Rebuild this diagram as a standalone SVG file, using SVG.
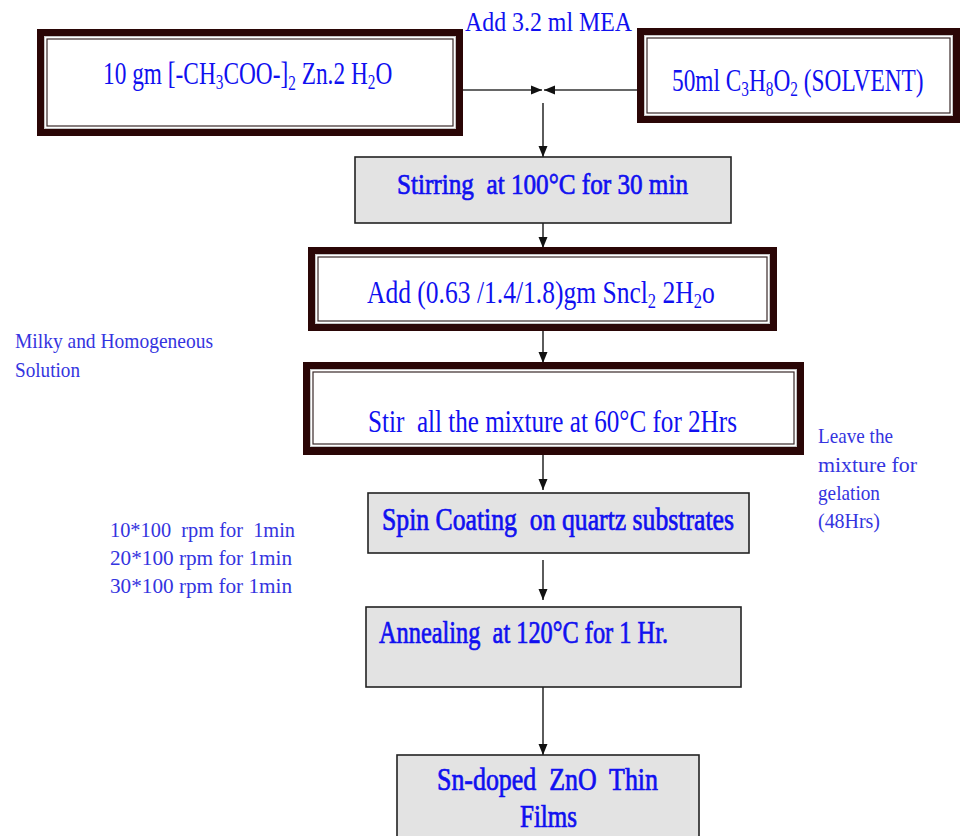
<svg xmlns="http://www.w3.org/2000/svg" width="960" height="836" viewBox="0 0 960 836">
<defs>
<style>
.bg{fill:#ffffff}
.frame{fill:#2a0606}
.band{fill:#c4c4c4}
.inner{fill:#ffffff}
.innerline{fill:none;stroke:#3a2a2a;stroke-width:1.2}
.plain{fill:#e3e3e3;stroke:#222;stroke-width:1.6}
.t{font-family:"Liberation Serif","Times New Roman",serif;fill:#1010f0}
.b{stroke:#1010f0;stroke-width:0.7}
.lbl{font-family:"Liberation Serif","Times New Roman",serif;fill:#3434e0}
.con{stroke:#333;stroke-width:1.6;fill:none}
</style>
<marker id="ah" markerUnits="userSpaceOnUse" markerWidth="12" markerHeight="12" viewBox="0 0 12 12" refX="11" refY="6" orient="auto">
<path d="M0,1.5 L11,6 L0,10.5 Z" fill="#111"/>
</marker>
</defs>
<rect class="bg" x="0" y="0" width="960" height="836"/>

<g id="connectors">
<line class="con" x1="463" y1="90" x2="542" y2="90" marker-end="url(#ah)"/>
<line class="con" x1="637" y1="90" x2="544" y2="90" marker-end="url(#ah)"/>
<line class="con" x1="543" y1="103" x2="543" y2="157" marker-end="url(#ah)"/>
<line class="con" x1="543" y1="223" x2="543" y2="248" marker-end="url(#ah)"/>
<line class="con" x1="543" y1="331" x2="543" y2="363" marker-end="url(#ah)"/>
<line class="con" x1="543" y1="455" x2="543" y2="490" marker-end="url(#ah)"/>
<line class="con" x1="543" y1="560" x2="543" y2="600" marker-end="url(#ah)"/>
<line class="con" x1="543" y1="687" x2="543" y2="755" marker-end="url(#ah)"/>
</g>

<g id="zinc-acetate">
<rect class="frame" x="37" y="29" width="426" height="107"/>
<rect class="band" x="44" y="36" width="412" height="93"/>
<rect class="inner" x="45" y="37" width="410" height="91"/>
<rect class="innerline" x="47" y="39" width="406" height="87"/>
<text class="t" transform="translate(103 84) scale(0.729 1)" x="0" y="0" font-size="32">10 gm [-CH<tspan font-size="21" dy="5">3</tspan><tspan dy="-5">COO-]</tspan><tspan font-size="21" dy="6">2</tspan><tspan dy="-6"> Zn.2 H</tspan><tspan font-size="21" dy="5">2</tspan><tspan dy="-5">O</tspan></text>
</g>

<g id="mea-label">
<text class="t" x="465" y="31" font-size="28" textLength="167" lengthAdjust="spacingAndGlyphs">Add 3.2 ml MEA</text>
</g>

<g id="solvent">
<rect class="frame" x="637" y="28" width="323" height="95"/>
<rect class="band" x="644" y="35" width="309" height="81"/>
<rect class="inner" x="645" y="36" width="307" height="79"/>
<rect class="innerline" x="647" y="38" width="303" height="75"/>
<text class="t" transform="translate(672 91) scale(0.729 1)" x="0" y="0" font-size="32">50ml C<tspan font-size="21" dy="5">3</tspan><tspan dy="-5">H</tspan><tspan font-size="21" dy="5">8</tspan><tspan dy="-5">O</tspan><tspan font-size="21" dy="5">2</tspan><tspan dy="-5"> (SOLVENT)</tspan></text>
</g>

<g id="stirring">
<rect class="plain" x="355" y="157" width="376" height="66"/>
<text class="t b" x="397" y="194" font-size="30" textLength="291" lengthAdjust="spacingAndGlyphs">Stirring&#160; at 100°C for 30 min</text>
</g>

<g id="add-sncl">
<rect class="frame" x="308" y="247" width="469" height="84"/>
<rect class="band" x="315" y="254" width="455" height="70"/>
<rect class="inner" x="316" y="255" width="453" height="68"/>
<rect class="innerline" x="318" y="257" width="449" height="64"/>
<text class="t" transform="translate(367 303) scale(0.824 1)" x="0" y="0" font-size="31">Add (0.63 /1.4/1.8)gm Sncl<tspan font-size="20" dy="5">2</tspan><tspan dy="-5"> 2H</tspan><tspan font-size="20" dy="5">2</tspan><tspan dy="-5">o</tspan></text>
</g>

<g id="milky-label">
<text class="lbl" x="15" y="348" font-size="21" textLength="198" lengthAdjust="spacingAndGlyphs">Milky and Homogeneous</text>
<text class="lbl" x="15" y="377" font-size="21" textLength="65" lengthAdjust="spacingAndGlyphs">Solution</text>
</g>

<g id="stir-mixture">
<rect class="frame" x="303" y="362" width="501" height="93"/>
<rect class="band" x="310" y="369" width="487" height="78"/>
<rect class="inner" x="311" y="370" width="485" height="76"/>
<rect class="innerline" x="313" y="372" width="481" height="72"/>
<text class="t" transform="translate(368 432) scale(0.786 1)" x="0" y="0" font-size="32">Stir&#160; all the mixture at 60°C for 2Hrs</text>
</g>

<g id="gelation-label">
<text class="lbl" x="818" y="443" font-size="21" textLength="75" lengthAdjust="spacingAndGlyphs">Leave the</text>
<text class="lbl" x="818" y="472" font-size="21" textLength="99" lengthAdjust="spacingAndGlyphs">mixture for</text>
<text class="lbl" x="818" y="500" font-size="21" textLength="62" lengthAdjust="spacingAndGlyphs">gelation</text>
<text class="lbl" x="818" y="528" font-size="21" textLength="62" lengthAdjust="spacingAndGlyphs">(48Hrs)</text>
</g>

<g id="rpm-label">
<text class="lbl" x="110" y="537" font-size="21" textLength="185" lengthAdjust="spacingAndGlyphs">10*100&#160; rpm for&#160; 1min</text>
<text class="lbl" x="110" y="565" font-size="21" textLength="182" lengthAdjust="spacingAndGlyphs">20*100 rpm for 1min</text>
<text class="lbl" x="110" y="593" font-size="21" textLength="182" lengthAdjust="spacingAndGlyphs">30*100 rpm for 1min</text>
</g>

<g id="spin-coating">
<rect class="plain" x="368" y="493" width="381" height="60"/>
<text class="t b" x="382" y="530" font-size="31" textLength="352" lengthAdjust="spacingAndGlyphs">Spin Coating&#160; on quartz substrates</text>
</g>

<g id="annealing">
<rect class="plain" x="366" y="607" width="375" height="80"/>
<text class="t b" x="379" y="643" font-size="31" textLength="289" lengthAdjust="spacingAndGlyphs">Annealing&#160; at 120°C for 1 Hr.</text>
</g>

<g id="thin-films">
<rect class="plain" x="397" y="755" width="302" height="100"/>
<text class="t b" x="437" y="790" font-size="31" textLength="221" lengthAdjust="spacingAndGlyphs">Sn-doped&#160; ZnO&#160; Thin</text>
<text class="t b" x="520" y="827" font-size="31" textLength="57" lengthAdjust="spacingAndGlyphs">Films</text>
</g>
</svg>
